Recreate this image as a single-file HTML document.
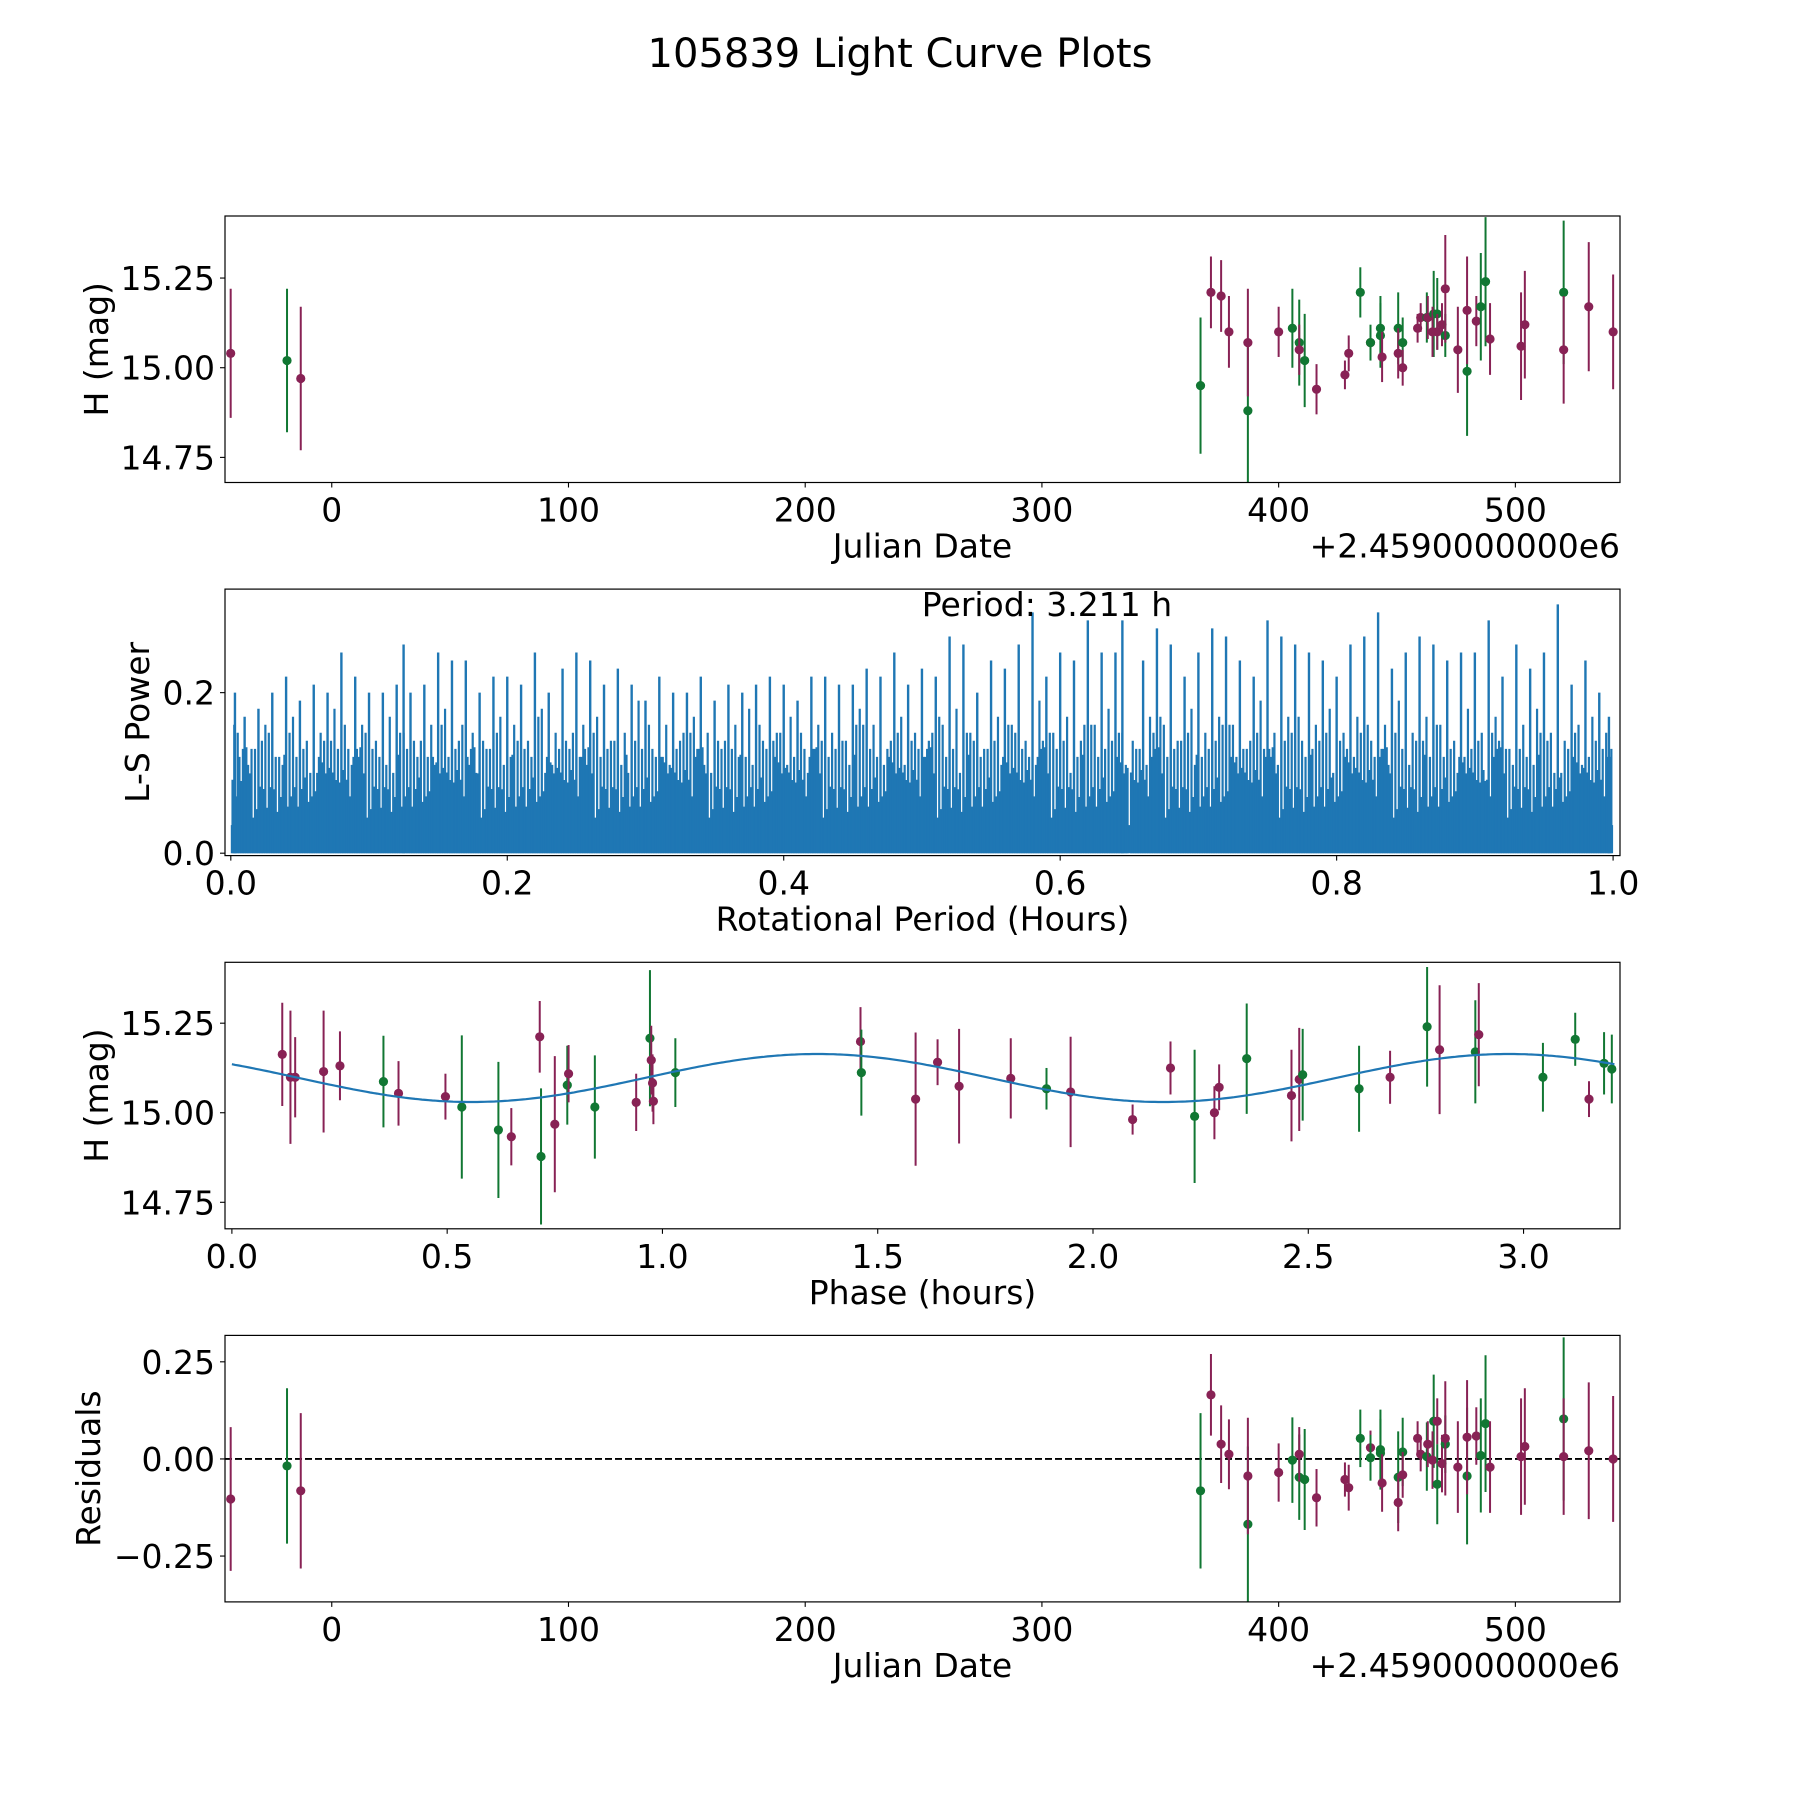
<!DOCTYPE html>
<html><head><meta charset="utf-8"><style>
html,body{margin:0;padding:0;background:#fff}
svg{display:block;font-family:"DejaVu Sans","Liberation Sans",sans-serif}
</style></head><body>
<svg id="fig" width="1800" height="1800" viewBox="0 0 1800 1800" xmlns="http://www.w3.org/2000/svg">
<rect width="1800" height="1800" fill="#fff"/>
<text x="900" y="67" font-size="40" text-anchor="middle">105839 Light Curve Plots</text>
</svg>
<script>
// ---------- data ----------
const jd = [-42.7,-18.9,-13.1,367,371.4,375.7,379,387,387,400,405.8,408.7,408.7,411,416,428,429.6,434.5,438.8,438.8,443,443,443.7,450.5,450.5,452.4,452.4,458.7,460,462.6,463,465.5,465,467,467,469,470.4,470.4,475.7,479.6,479.6,483.5,485.4,487.4,489.3,502.4,504,520.4,520.4,531,541.3];
const band = ['p','g','p','g','p','p','p','g','p','p','g','g','p','g','p','p','p','g','p','g','g','g','p','g','p','g','p','p','p','g','p','g','p','g','p','p','g','p','p','g','p','p','g','g','p','p','p','g','p','p','p'];
const mag = [15.04,15.02,14.97,14.95,15.21,15.20,15.10,14.88,15.07,15.10,15.11,15.07,15.05,15.02,14.94,14.98,15.04,15.21,15.07,15.07,15.11,15.09,15.03,15.11,15.04,15.07,15.0,15.11,15.14,15.14,15.14,15.15,15.10,15.15,15.10,15.12,15.09,15.22,15.05,14.99,15.16,15.13,15.17,15.24,15.08,15.06,15.12,15.21,15.05,15.17,15.10];
const magErr = [.18,.2,.2,.19,.1,.1,.1,.2,.15,.07,.11,.12,.07,.13,.07,.04,.05,.07,.04,.05,.09,.09,.07,.1,.07,.07,.05,.04,.04,.07,.06,.12,.07,.1,.05,.06,.06,.15,.12,.18,.15,.07,.15,.18,.1,.15,.15,.2,.15,.18,.16];
const resid = [-0.103,-0.018,-0.082,-0.082,0.165,0.038,0.012,-0.168,-0.044,-0.035,-0.003,-0.047,0.012,-0.053,-0.1,-0.053,-0.074,0.053,0.029,0.003,0.024,0.015,-0.062,-0.047,-0.112,0.018,-0.041,0.053,0.012,0.006,0.038,0.097,-0.003,-0.065,0.097,-0.012,0.038,0.053,-0.021,-0.044,0.056,0.059,0.009,0.091,-0.021,0.006,0.032,0.103,0.006,0.021,0.0];
const residErr = [.185,.2,.2,.2,.105,.1,.09,.2,.15,.075,.11,.11,.07,.13,.074,.044,.059,.074,.044,.059,.103,.088,.074,.118,.074,.088,.059,.044,.044,.088,.059,.12,.074,.103,.059,.074,.074,.147,.118,.176,.147,.074,.147,.176,.118,.15,.15,.21,.15,.176,.162];
const phase = [0.117,0.136,0.147,0.213,0.251,0.352,0.387,0.496,0.534,0.619,0.649,0.715,0.718,0.750,0.779,0.782,0.843,0.939,0.971,0.974,0.977,0.979,1.030,1.460,1.462,1.588,1.639,1.689,1.809,1.892,1.948,2.092,2.180,2.236,2.282,2.293,2.357,2.461,2.479,2.487,2.618,2.690,2.776,2.805,2.888,2.896,3.045,3.120,3.152,3.187,3.205];
const phaseMag = [15.163,15.099,15.099,15.115,15.131,15.087,15.054,15.045,15.016,14.952,14.933,15.212,14.878,14.968,15.077,15.109,15.016,15.029,15.208,15.147,15.083,15.032,15.112,15.199,15.112,15.038,15.141,15.074,15.096,15.067,15.058,14.981,15.125,14.990,15.0,15.071,15.151,15.048,15.093,15.106,15.067,15.099,15.240,15.176,15.170,15.218,15.099,15.205,15.038,15.138,15.122];
const phaseErr = [.144,.186,.112,.17,.096,.128,.09,.064,.2,.19,.08,.1,.19,.19,.11,.08,.144,.08,.19,.096,.08,.064,.096,.096,.12,.186,.064,.16,.112,.058,.154,.042,.074,.186,.074,.064,.154,.128,.144,.128,.12,.074,.167,.18,.144,.144,.096,.074,.05,.087,.096];
const phaseBand = ['p','p','p','p','p','g','p','p','g','g','p','p','g','p','g','p','g','p','g','p','p','p','g','p','g','p','p','p','p','g','p','p','p','g','p','p','g','p','p','g','g','p','g','p','g','p','g','g','p','g','g'];
const fitParams = [15.097, 0.067, 1.36, 1.6055]; // mean, amplitude, peak phase, half-period
const peakPeriod = [0.003,0.01,0.02,0.03,0.04,0.05,0.06,0.07,0.08,0.09,0.1,0.11,0.12,0.125,0.13,0.14,0.15,0.16,0.17,0.18,0.19,0.2,0.21,0.22,0.23,0.24,0.25,0.26,0.27,0.28,0.29,0.3,0.31,0.32,0.33,0.34,0.35,0.36,0.37,0.38,0.39,0.4,0.41,0.42,0.43,0.44,0.45,0.46,0.47,0.48,0.49,0.5,0.51,0.52,0.53,0.54,0.55,0.56,0.57,0.58,0.59,0.6,0.61,0.62,0.63,0.64,0.645,0.66,0.67,0.68,0.69,0.7,0.71,0.72,0.73,0.74,0.75,0.76,0.77,0.78,0.79,0.8,0.81,0.82,0.83,0.84,0.85,0.86,0.87,0.88,0.89,0.9,0.91,0.92,0.93,0.94,0.95,0.96,0.97,0.98,0.99,0.997];
const peakPower = [0.20,0.17,0.18,0.2,0.22,0.19,0.21,0.2,0.25,0.22,0.2,0.2,0.21,0.26,0.2,0.21,0.25,0.24,0.24,0.2,0.22,0.22,0.21,0.25,0.2,0.23,0.25,0.24,0.21,0.23,0.21,0.19,0.22,0.2,0.2,0.22,0.19,0.21,0.2,0.21,0.22,0.21,0.19,0.22,0.22,0.21,0.21,0.23,0.22,0.25,0.21,0.23,0.22,0.27,0.26,0.2,0.24,0.23,0.26,0.30,0.22,0.25,0.24,0.29,0.25,0.25,0.29,0.24,0.28,0.26,0.22,0.25,0.28,0.27,0.24,0.22,0.29,0.27,0.26,0.25,0.24,0.22,0.26,0.27,0.3,0.23,0.25,0.27,0.26,0.24,0.25,0.25,0.29,0.22,0.26,0.23,0.25,0.31,0.21,0.24,0.2,0.17];
const midPower = [0.15,0.13,0.16,0.12,0.17,0.14,0.15,0.18,0.13,0.16,0.14,0.17,0.15,0.12,0.16,0.18,0.14,0.15,0.13,0.17,0.16,0.14,0.18,0.15,0.13,0.16,0.17,0.14,0.15,0.19,0.13,0.16,0.14,0.17,0.15,0.13,0.16,0.18,0.14,0.15,0.17,0.13,0.16,0.15,0.14,0.18,0.16,0.13,0.17,0.15,0.14,0.16,0.18,0.15,0.13,0.17,0.16,0.14,0.19,0.15,0.17,0.14,0.16,0.18,0.15,0.13,0.17,0.16,0.14,0.18,0.15,0.17,0.16,0.13,0.19,0.15,0.17,0.14,0.16,0.18,0.15,0.17,0.14,0.16,0.19,0.15,0.17,0.16,0.14,0.18,0.15,0.17,0.13,0.16,0.18,0.15,0.14,0.16,0.17,0.15];
const baseWave = [0.10,0.07,0.12,0.09,0.06,0.11,0.13,0.08,0.10,0.05,0.12,0.09,0.11,0.07,0.14,0.10,0.06,0.12,0.09,0.11,0.08,0.13,0.07,0.10,0.12,0.06,0.11,0.09,0.14,0.08,0.10,0.12,0.07];
const jdTicks = [0,100,200,300,400,500];
const magTicks = [14.75,15.00,15.25];
const perTicks = [0,0.2,0.4,0.6,0.8,1.0];
const powTicks = [0,0.2];
const phaseTicks = [0,0.5,1,1.5,2,2.5,3];
const residTicks = [-0.25,0,0.25];

// ---------- helpers ----------
const NS='http://www.w3.org/2000/svg';
const svg=document.getElementById('fig');
const COL={p:'#882255',g:'#117733'};
const FS=33;
function mk(tag,attrs,parent){const e=document.createElementNS(NS,tag);for(const k in attrs)e.setAttribute(k,attrs[k]);(parent||svg).appendChild(e);return e;}
const L=225,R=1620,H=266.5;
const TOPS=[216,589.1,962.3,1335.4];
function lin(d0,d1,r0,r1){return v=>r0+(v-d0)/(d1-d0)*(r1-r0);}
function fmt(v,dec){let s=v.toFixed(dec);return s.replace('-','\u2212');}

function axesFrame(i,name,sx,sy,xt,xdec,yt,ydec,xlabel,ylabel,ylabX,offset){
  const top=TOPS[i],bot=top+H;
  const g=mk('g',{});
  
  
  xt.forEach(v=>{const x=sx(v);
    const t=mk('line',{x1:x,x2:x,y1:bot,y2:bot+5,stroke:'#000','stroke-width':1.1},g);
    
    const tx=mk('text',{x:x,y:bot+39,'font-size':FS,'text-anchor':'middle'},g);tx.textContent=fmt(v,xdec);
    });
  yt.forEach(v=>{const y=sy(v);
    const t=mk('line',{x1:L-5,x2:L,y1:y,y2:y,stroke:'#000','stroke-width':1.1},g);
    
    const tx=mk('text',{x:L-10,y:y+12,'font-size':FS,'text-anchor':'end'},g);tx.textContent=fmt(v,ydec);
    });
  const xl=mk('text',{x:(L+R)/2,y:bot+75,'font-size':FS,'text-anchor':'middle'},g);xl.textContent=xlabel;
  
  const yc=top+H/2;
  const yl=mk('text',{x:ylabX,y:yc,'font-size':FS,'text-anchor':'middle',transform:`rotate(-90 ${ylabX} ${yc})`},g);yl.textContent=ylabel;
  
  if(offset){const o=mk('text',{x:R,y:bot+75,'font-size':FS,'text-anchor':'end'},g);o.textContent=offset;
    }
}
function frame(i,name){const top=TOPS[i];
  const r=mk('rect',{x:L,y:top,width:R-L,height:H,fill:'none',stroke:'#000','stroke-width':1.2});
  }
function clip(i){const id='c'+i;const d=mk('clipPath',{id:id});mk('rect',{x:L,y:TOPS[i],width:R-L,height:H},d);return 'url(#'+id+')';}
function errPoints(i,name,xs,ys,es,bs,sx,sy){
  const g=mk('g',{'clip-path':clip(i)});
  
  xs.forEach((xv,k)=>{const x=sx(xv),c=COL[bs[k]];
    const l=mk('line',{x1:x,x2:x,y1:sy(ys[k]-es[k]),y2:sy(ys[k]+es[k]),stroke:c,'stroke-width':2},g);
    
    const p=mk('circle',{cx:x,cy:sy(ys[k]),r:4.6,fill:c},g);
    });
}

// ---------- panel 1: light curve vs JD ----------
{const sx=lin(-45.1,544.2,L,R),sy=lin(14.68,15.423,TOPS[0]+H,TOPS[0]);
 errPoints(0,'lightcurve',jd,mag,magErr,band,sx,sy);
 axesFrame(0,'lightcurve',sx,sy,jdTicks,0,magTicks,2,'Julian Date','H (mag)',108,'+2.4590000000e6');frame(0,'lightcurve');}

// ---------- panel 2: periodogram ----------
{const top=TOPS[1],sx=lin(-0.0042,1.005,L,R),sy=lin(-0.003,0.329,top+H,top);
 const g=mk('g',{'clip-path':clip(1)});
 
 const base=mk('rect',{x:sx(0),y:sy(0.035),width:sx(1)-sx(0),height:sy(0)-sy(0.035),fill:'#1f77b4'},g);
 
 const nb=baseWave.length, NS2=400;
 for(let j=0;j<NS2;j++){const xx=sx((j+0.5)/NS2);const v=baseWave[(j*7)%nb]*(0.6+0.4*baseWave[(j*3+5)%nb]/0.14);
   const l=mk('line',{x1:xx,x2:xx,y1:sy(0),y2:sy(v),stroke:'#1f77b4','stroke-width':2.2},g);
   }
 midPower.forEach((v,k)=>{const x=sx((k+0.5)/midPower.length);
   const l=mk('line',{x1:x,x2:x,y1:sy(0),y2:sy(v),stroke:'#1f77b4','stroke-width':2.2},g);
   
   const x2=sx((k+0.25)/midPower.length),v2=midPower[(k+7)%midPower.length]-0.02;
   const l2=mk('line',{x1:x2,x2:x2,y1:sy(0),y2:sy(v2),stroke:'#1f77b4','stroke-width':2.2},g);
   
   const x3=sx((k+0.75)/midPower.length),v3=midPower[(k+13)%midPower.length]-0.03;
   const l3=mk('line',{x1:x3,x2:x3,y1:sy(0),y2:sy(v3),stroke:'#1f77b4','stroke-width':2.2},g);
   });
 peakPeriod.forEach((p,k)=>{const x=sx(p);
   const l=mk('line',{x1:x,x2:x,y1:sy(0),y2:sy(peakPower[k]),stroke:'#1f77b4','stroke-width':2.4},g);
   });
 axesFrame(1,'periodogram',sx,sy,perTicks,1,powTicks,1,'Rotational Period (Hours)','L-S Power',149,null);frame(1,'periodogram');
 const t=mk('text',{x:1047,y:616,'font-size':FS,'text-anchor':'middle'});t.textContent='Period: 3.211 h';
 }

// ---------- panel 3: phased light curve ----------
{const top=TOPS[2],sx=lin(-0.016,3.224,L,R),sy=lin(14.676,15.42,top+H,top);
 errPoints(2,'phased',phase,phaseMag,phaseErr,phaseBand,sx,sy);
 const [m,a,p0,per]=fitParams;let d='';
 for(let k=0;k<=400;k++){const x=3.211*k/400;const y=m+a*Math.cos(2*Math.PI*(x-p0)/per);d+=(k?'L':'M')+sx(x).toFixed(1)+' '+sy(y).toFixed(1);}
 const c=mk('path',{d:d,fill:'none',stroke:'#1f77b4','stroke-width':2.2,'clip-path':clip(2)});
 
 axesFrame(2,'phased',sx,sy,phaseTicks,1,magTicks,2,'Phase (hours)','H (mag)',108,null);frame(2,'phased');}

// ---------- panel 4: residuals ----------
{const top=TOPS[3],sx=lin(-45.1,544.2,L,R),sy=lin(-0.368,0.318,top+H,top);
 const z=mk('line',{x1:L,x2:R,y1:sy(0),y2:sy(0),stroke:'#000','stroke-width':1.8,'stroke-dasharray':'7,3'});
 
 errPoints(3,'residuals',jd,resid,residErr,band,sx,sy);
 axesFrame(3,'residuals',sx,sy,jdTicks,0,residTicks,2,'Julian Date','Residuals',100,'+2.4590000000e6');frame(3,'residuals');}
</script>
</body></html>
